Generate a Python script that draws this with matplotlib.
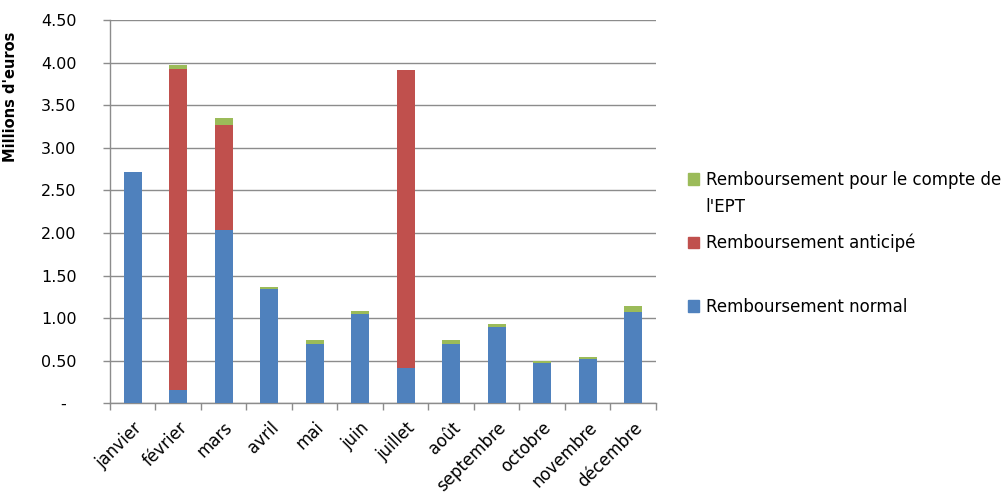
import matplotlib
matplotlib.use("Agg")
import matplotlib.pyplot as plt
import numpy as np
from matplotlib.patches import Patch

months = ["janvier", "février", "mars", "avril", "mai", "juin", "juillet",
          "août", "septembre", "octobre", "novembre", "décembre"]
normal = [2.71, 0.16, 2.04, 1.34, 0.70, 1.05, 0.41, 0.70, 0.89, 0.47, 0.52, 1.07]
anticipe = [0.00, 3.76, 1.23, 0.00, 0.00, 0.00, 3.50, 0.00, 0.00, 0.00, 0.00, 0.00]
ept = [0.00, 0.05, 0.08, 0.02, 0.04, 0.03, 0.00, 0.04, 0.04, 0.03, 0.02, 0.075]
series_labels = ["Remboursement normal", "Remboursement anticipé",
                 "Remboursement pour le compte de", "l'EPT"]
colors = ["#4F81BD", "#C0504D", "#9BBB59"]
yticks = [0, 0.5, 1.0, 1.5, 2.0, 2.5, 3.0, 3.5, 4.0, 4.5]

plt.rcParams['font.family'] = ['DejaVu Sans']
fig = plt.figure(figsize=(10.07, 4.94), dpi=100)
ax = fig.add_axes([0.1092, 0.1836, 0.5422, 0.7759])

x = np.arange(len(months))
w = 0.39
ax.bar(x, normal, w, color=colors[0], zorder=3)
bottom2 = np.array(normal)
ax.bar(x, anticipe, w, bottom=bottom2, color=colors[1], zorder=3)
bottom3 = bottom2 + np.array(anticipe)
ax.bar(x, ept, w, bottom=bottom3, color=colors[2], zorder=3)

ax.set_xlim(-0.5, len(months) - 0.5)
ax.set_ylim(0, 4.5)
ax.set_yticks(yticks)
ax.set_yticklabels(["-  " if v == 0 else f"{v:.2f}" for v in yticks], fontsize=11.5)
ax.yaxis.grid(True, color="#8C8C8C", linewidth=1.0, zorder=0)
ax.set_axisbelow(True)

ax.set_xticks(x)
ax.set_xticklabels(months, rotation=45, ha="right", rotation_mode="anchor", fontsize=12)
ax.set_xticks(np.arange(-0.5, len(months), 1.0), minor=True)
ax.tick_params(axis="x", which="major", length=0, pad=11)
ax.tick_params(axis="x", which="minor", length=5, color="#8C8C8C", width=1)
ax.tick_params(axis="y", length=5, color="#8C8C8C", width=1, pad=19)

for s in ["top", "right"]:
    ax.spines[s].set_visible(False)
for s in ["left", "bottom"]:
    ax.spines[s].set_color("#8C8C8C")
    ax.spines[s].set_linewidth(1.0)

ax.set_ylabel("Millions d'euros", fontsize=10.5, fontweight="bold")
ax.yaxis.set_label_coords(-0.168, 0.80)

# legend entries placed individually (top to bottom: EPT, anticipé, normal)
entries = [(colors[2], series_labels[2], 1 - 180 / 494),
           (colors[1], series_labels[1], 1 - 243 / 494),
           (colors[0], series_labels[0], 1 - 307 / 494)]
for col, lab, yy in entries:
    fig.legend([Patch(color=col)], [lab], loc="center left",
               bbox_to_anchor=(0.683, yy), frameon=False, fontsize=12,
               handlelength=0.7, handleheight=0.7, handletextpad=0.4,
               borderaxespad=0, borderpad=0)
fig.text(0.7, 1 - 207 / 494, series_labels[3], fontsize=12, va="center", ha="left")

fig.savefig("out.png", dpi=100)
